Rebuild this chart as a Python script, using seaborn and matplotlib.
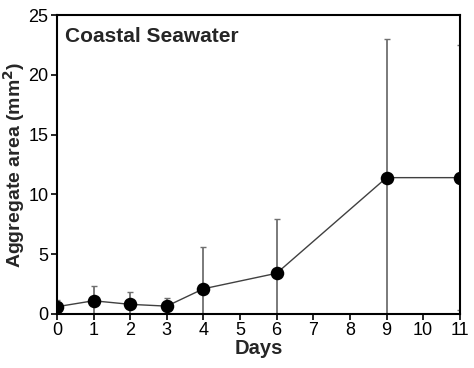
import numpy as np
import pandas as pd
import matplotlib
matplotlib.use("Agg")
import matplotlib.pyplot as plt
import seaborn as sns

# Aggregate area over time (mean and SD)
days = [0, 1, 2, 3, 4, 6, 9, 11]
area_mean = [0.6, 1.1, 0.8, 0.65, 2.1, 3.4, 11.4, 11.4]
area_sd = [0.55, 1.2, 1.05, 0.65, 3.5, 4.5, 11.6, 11.1]

x_ticks = list(range(0, 12))
y_ticks = [0, 5, 10, 15, 20, 25]

sns.set_style("ticks")
plt.rcParams['font.family'] = ['Liberation Sans', 'DejaVu Sans']

df = pd.DataFrame({'Days': days, 'area': area_mean, 'sd': area_sd})

fig = plt.figure(figsize=(4.74, 3.68), dpi=100)
ax = fig.add_axes([0.120, 0.147, 0.850, 0.812])

ax.errorbar(df['Days'], df['area'], yerr=df['sd'], fmt='none',
            ecolor='#707070', elinewidth=1.3, capsize=2.5, capthick=1.0, zorder=2)
sns.lineplot(data=df, x='Days', y='area', ax=ax, color='#404040',
             linewidth=1.0, zorder=3)
sns.scatterplot(data=df, x='Days', y='area', ax=ax, color='black',
                s=95, edgecolor='black', linewidth=0, zorder=4)

# markers sitting on the frame get cut, like in the original
for art in list(ax.collections) + list(ax.lines):
    art.set_clip_on(True)
    art.set_clip_path(ax.patch)

ax.set_xlim(0, 11)
ax.set_ylim(0, 25)
ax.set_xticks(x_ticks)
ax.set_yticks(y_ticks)
ax.tick_params(axis='both', labelsize=13, length=4, width=1.2, colors='black', pad=2)

for s in ax.spines.values():
    s.set_linewidth(1.5)
    s.set_color('black')
    s.set_visible(True)
    s.set_zorder(5)

ax.set_xlabel('Days', fontsize=14.5, fontweight='bold', labelpad=0)
ax.set_ylabel('Aggregate area (mm$\\mathbf{^2}$)', fontsize=14, fontweight='bold', labelpad=1)
ax.text(0.02, 0.96, 'Coastal Seawater', transform=ax.transAxes,
        fontsize=15, fontweight='bold', ha='left', va='top')

fig.savefig('out.png', dpi=100)
